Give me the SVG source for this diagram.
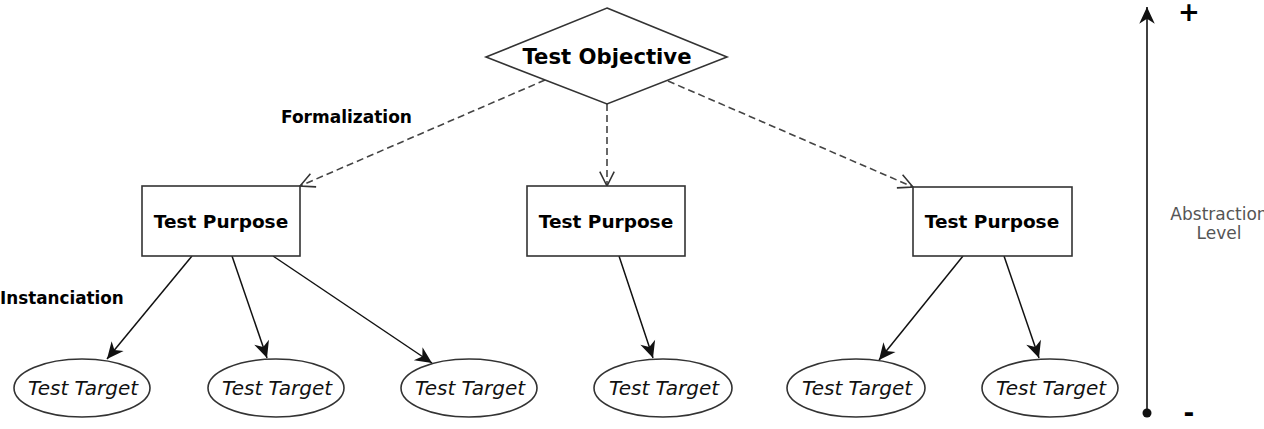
<svg xmlns="http://www.w3.org/2000/svg" width="1264" height="429" viewBox="0 0 1264 429">
<defs>
<marker id="filled" markerUnits="userSpaceOnUse" markerWidth="20" markerHeight="20" viewBox="-16 -8 18 16" refX="0" refY="0" orient="auto">
<path d="M0,0 L-15,-7 L-10.5,0 L-15,7 Z" fill="#111"/>
</marker>
<marker id="open" markerUnits="userSpaceOnUse" markerWidth="20" markerHeight="20" viewBox="-16 -8 18 16" refX="0" refY="0" orient="auto">
<path d="M-13,-6.5 L0,0 L-13,6.5" fill="none" stroke="#333" stroke-width="1.4"/>
</marker>
</defs>
<style>
.shape{fill:#fff;stroke:#333;stroke-width:1.6}
.bold{font-family:"DejaVu Sans",sans-serif;font-weight:bold;fill:#000}
.ital{font-family:"DejaVu Sans",sans-serif;font-style:italic;font-size:20px;fill:#111;text-anchor:middle}
.dash{stroke:#444;stroke-width:1.6;stroke-dasharray:7,4;fill:none;marker-end:url(#open)}
.solid{stroke:#111;stroke-width:1.5;fill:none;marker-end:url(#filled)}
.axis{font-family:"DejaVu Sans",sans-serif;font-size:17px;fill:#555;text-anchor:middle}
</style>
<rect width="1264" height="429" fill="#fff"/>
<g id="connectors">
<line class="dash" x1="545" y1="80" x2="300" y2="186"/>
<line class="dash" x1="607" y1="104" x2="607" y2="186"/>
<line class="dash" x1="668" y1="81" x2="913" y2="187"/>
<line class="solid" x1="192" y1="256" x2="107" y2="359"/>
<line class="solid" x1="232" y1="256" x2="267" y2="358"/>
<line class="solid" x1="273" y1="256" x2="432" y2="363"/>
<line class="solid" x1="619" y1="256" x2="653" y2="358"/>
<line class="solid" x1="963" y1="256" x2="879" y2="360"/>
<line class="solid" x1="1004" y1="256" x2="1039" y2="358"/>
</g>
<g id="objective">
<polygon class="shape" points="607,8 727,57 607,104 486,57"/>
<text class="bold" x="607" y="64" font-size="21.2" text-anchor="middle">Test Objective</text>
</g>
<g id="purpose1">
<rect class="shape" x="142" y="186" width="158" height="70"/>
<text class="bold" x="221" y="228" font-size="18.5" text-anchor="middle">Test Purpose</text>
</g>
<g id="purpose2">
<rect class="shape" x="527" y="186" width="158" height="70"/>
<text class="bold" x="606" y="228" font-size="18.5" text-anchor="middle">Test Purpose</text>
</g>
<g id="purpose3">
<rect class="shape" x="913" y="187" width="159" height="69"/>
<text class="bold" x="992" y="228" font-size="18.5" text-anchor="middle">Test Purpose</text>
</g>
<g id="target1"><ellipse class="shape" cx="82" cy="388" rx="68" ry="29"/><text class="ital" x="83" y="395">Test Target</text></g>
<g id="target2"><ellipse class="shape" cx="276" cy="388" rx="68" ry="29"/><text class="ital" x="277" y="395">Test Target</text></g>
<g id="target3"><ellipse class="shape" cx="469" cy="388" rx="68" ry="29"/><text class="ital" x="470" y="395">Test Target</text></g>
<g id="target4"><ellipse class="shape" cx="663" cy="388" rx="69" ry="29"/><text class="ital" x="664" y="395">Test Target</text></g>
<g id="target5"><ellipse class="shape" cx="856" cy="388" rx="69" ry="29"/><text class="ital" x="857" y="395">Test Target</text></g>
<g id="target6"><ellipse class="shape" cx="1050" cy="388" rx="68" ry="29"/><text class="ital" x="1051" y="395">Test Target</text></g>
<g id="labels">
<text class="bold" x="281" y="123" font-size="17">Formalization</text>
<text class="bold" x="0" y="304" font-size="16.8">Instanciation</text>
</g>
<g id="abstraction-axis">
<line x1="1147" y1="413" x2="1147" y2="7" stroke="#111" stroke-width="1.6" marker-end="url(#filled)"/>
<circle cx="1147" cy="413" r="4.5" fill="#111"/>
<text class="bold" x="1189" y="21" font-size="26" text-anchor="middle">+</text>
<text class="bold" x="1189" y="422" font-size="26" text-anchor="middle">-</text>
<text class="axis" x="1219" y="220">Abstraction</text>
<text class="axis" x="1219" y="239">Level</text>
</g>
</svg>
